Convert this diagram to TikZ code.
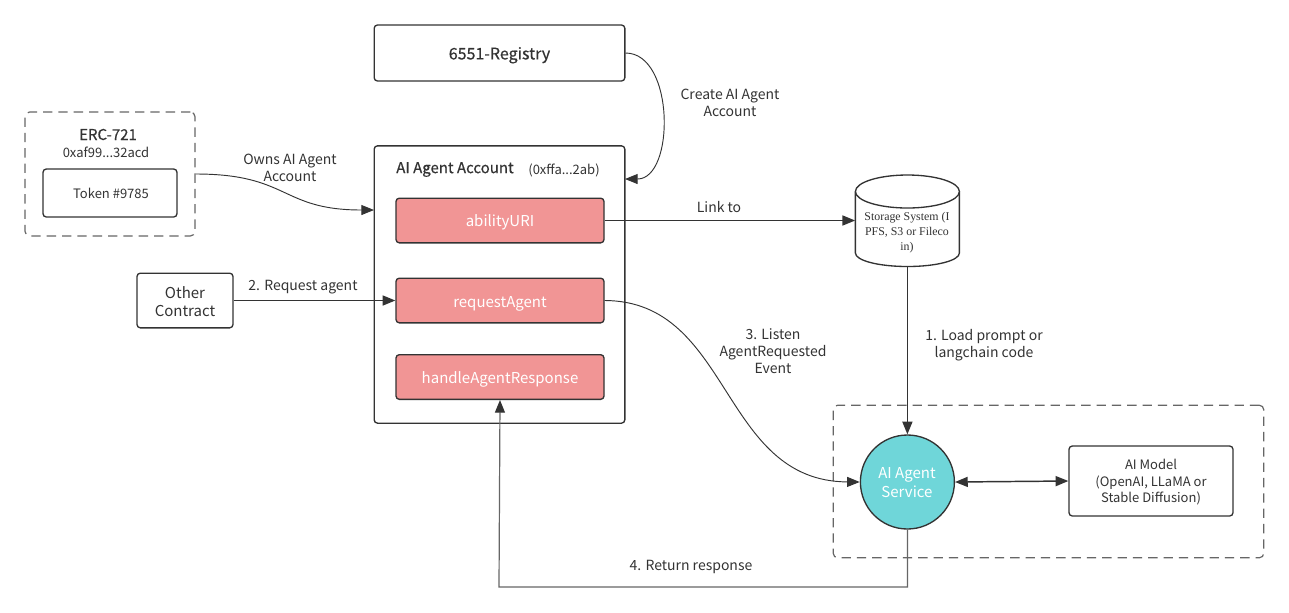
\documentclass[tikz,border=0pt]{standalone}
\usepackage{fontspec}
\setmainfont{Noto Sans CJK SC}
\newfontfamily\serifcyl{Liberation Serif}
\newfontfamily\medf[FakeBold=0.5]{Noto Sans CJK SC}
\usetikzlibrary{arrows.meta,shapes.geometric}
\definecolor{ink}{HTML}{333333}
\definecolor{dashc}{HTML}{666666}
\definecolor{pinkf}{HTML}{F19595}
\definecolor{tealf}{HTML}{6FD6D9}
\newcommand\vc[1]{\raisebox{0pt}[.9em][.1em]{#1}}
\tikzset{
  base/.style={draw=ink,line width=1pt,rounded corners=2.5pt,inner sep=0pt,align=center,text=ink,font=\fontsize{10.5pt}{13pt}\selectfont},
  dashbox/.style={draw=dashc,line width=0.9pt,dash pattern=on 7pt off 4.5pt,rounded corners=3.5pt,inner sep=0pt},
  fnbox/.style={base,fill=pinkf,text=white,minimum width=156pt,minimum height=33.5pt,font=\fontsize{11.25pt}{14pt}\selectfont},
  lab/.style={text=ink,inner sep=0pt,align=center,font=\fontsize{10.5pt}{13pt}\selectfont},
  tip/.style={-{Triangle[length=9.5pt,width=7.5pt,color=ink,fill=ink]}},
  conn/.style={draw=ink,line width=1.1pt,tip},
  curve/.style={draw=ink,line width=0.7pt,tip},
}
\begin{document}
\begin{tikzpicture}[x=0.75pt,y=-0.75pt]
\useasboundingbox (0,0) rectangle (1289,612);
\fill[white] (0,0) rectangle (1289,612);
% containers
\node[dashbox,minimum width=127.5pt,minimum height=93pt] (erc) at (110,174) {};
\node[base,minimum width=100.5pt,minimum height=36pt,font=\fontsize{9.75pt}{12pt}\selectfont] (token) at (110,193) {\vc{\hspace{1.5pt}Token \#9785}};
\node[lab,font=\medf\fontsize{11.25pt}{14pt}\selectfont] (erct) at (108,134.5) {ERC-721};
\node[lab,font=\fontsize{9.75pt}{12pt}\selectfont] (ercaddr) at (106,152) {0xaf99...32acd};
\node[base,minimum width=72pt,minimum height=41pt] (other) at (185,300.5) {};
\node[lab,font=\fontsize{11.25pt}{13.5pt}\selectfont] (othert) at (185,302) {Other\\Contract};
\node[base,minimum width=188pt,minimum height=42pt,font=\medf\fontsize{12pt}{14pt}\selectfont] (reg) at (499.5,53) {\vc{6551-Registry}};
\node[base,minimum width=188pt,minimum height=208pt] (acct) at (499.5,284.5) {};
\node[lab,anchor=west,font=\medf\fontsize{11.25pt}{14pt}\selectfont] (acctt) at (396,169.5) {AI Agent Account};
\node[lab,font=\fontsize{9.75pt}{12pt}\selectfont] (addr) at (564,170) {(0xffa...2ab)};
\node[fnbox] (ability) at (500,220.5) {\vc{abilityURI}};
\node[fnbox] (request) at (500,300.5) {\vc{\raisebox{-0.6pt}{requestAgent}}};
\node[fnbox] (handle) at (500,377) {\vc{handleAgentResponse}};
\node[dashbox,minimum width=323pt,minimum height=114.5pt] (svcbox) at (1048.5,481.5) {};
% storage cylinder: an outline-free named node, with the drum drawn round it
\node[minimum width=78pt,minimum height=68.5pt,inner sep=0pt] (cyl) at (907.4,220.5) {};
\draw[draw=ink,line width=1pt,fill=white] (855.4,191.5) -- (855.4,253) .. controls (855.4,260.5) and (878.4,266.5) .. (907.4,266.5) .. controls (936.4,266.5) and (959.4,260.5) .. (959.4,253) -- (959.4,191.5);
\draw[draw=ink,line width=1pt,fill=white] (907.4,191.5) ellipse [x radius=52,y radius=16.5];
\node[text=ink,inner sep=0pt,align=center,font=\serifcyl\fontsize{8.9pt}{11.3pt}\selectfont] (cylt) at (907,232.5) {Storage System (I\\PFS, S3 or Fileco\\in)};
\node[circle,draw=ink,line width=1pt,fill=tealf,text=white,minimum size=70.5pt,inner sep=0pt,font=\fontsize{11.25pt}{14.25pt}\selectfont] (svc) at (907.4,482) {};
\node[text=white,inner sep=0pt,align=center,font=\fontsize{11.25pt}{14.25pt}\selectfont] (svct) at (907,483) {AI Agent\\Service};
\node[base,minimum width=123pt,minimum height=52.5pt] (model) at (1151,481) {};
\node[lab,font=\fontsize{9.75pt}{12.4pt}\selectfont] (modelt) at (1151,482.5) {AI Model\\(OpenAI, LLaMA or\\Stable Diffusion)};
% free ends on the account border
\coordinate (acctw) at (374,210);
\coordinate (accte) at (625,179);
\coordinate (corner) at (907.4,587);
\coordinate (cornerb) at (499,587);
% connectors
\draw[curve] (erc.east) .. controls (290,174) and (280,210) .. (acctw);
\draw[curve] (reg.east) .. controls (675,53) and (675,179) .. (accte);
\draw[conn] (ability.east) -- (cyl.west |- ability.east);
\draw[conn] (other.east) -- (request.west);
\draw[curve] (request.east) .. controls (732,301) and (720,481) .. (svc.west);
\draw[conn] (cyl.south) -- (svc.north);
\draw[{Triangle[length=9.5pt,width=7.5pt]}-{Triangle[length=9.5pt,width=7.5pt]},draw=ink,fill=ink,line width=1.1pt] (svc.east) -- (model.west);
\draw[draw=dashc,line width=0.9pt,tip] (svc.south) -- (corner) -- (cornerb) -- (handle.south);
% labels
\node[lab] (l1) at (290,168) {Owns AI Agent\\Account};
\node[lab] (l2) at (303,287) {2. Request agent};
\node[lab] (l3) at (730,103) {Create AI Agent\\Account};
\node[lab] (l4) at (719,207.5) {Link to};
\node[lab] (l5) at (773,351) {3. Listen\\AgentRequested\\Event};
\node[lab] (l6) at (984,345) {1. Load prompt or\\langchain code};
\node[lab] (l7) at (691,567) {4. Return response};
\end{tikzpicture}
\end{document}
